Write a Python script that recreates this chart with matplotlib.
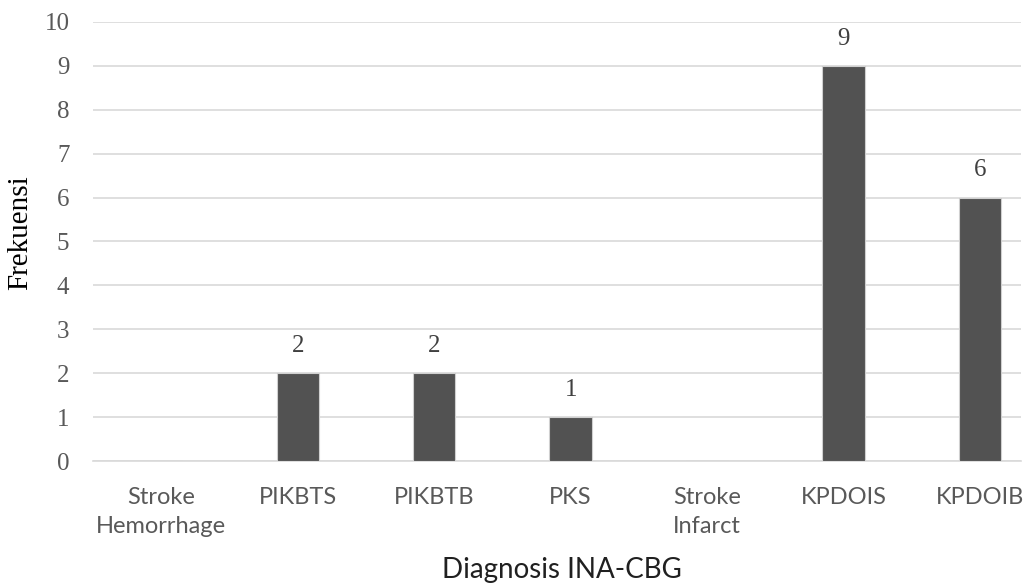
import matplotlib.pyplot as plt

categories = ["Stroke\nHemorrhage", "PIKBTS", "PIKBTB", "PKS",
              "Stroke\nInfarct", "KPDOIS", "KPDOIB"]
frekuensi = [0, 2, 2, 1, 0, 9, 6]
y_ticks = list(range(0, 11))


def main():
    fig = plt.figure(figsize=(10.25, 5.88), dpi=100)
    ax = fig.add_axes([93 / 1025, 1 - 461 / 588, 928 / 1025, 439 / 588])

    x = list(range(len(categories)))
    bars = ax.bar(x, frekuensi, width=0.31, color="#525252",
                  edgecolor="#d0d0d0", linewidth=0.8, zorder=3)

    # value labels only on the bars that have counts
    for b, v in zip(bars, frekuensi):
        if v > 0:
            ax.text(b.get_x() + b.get_width() / 2, v + 0.62, str(v),
                    ha="center", va="center", fontsize=18,
                    family="Liberation Serif", color="#404040")

    ax.set_xlim(-0.5, 6.3)
    ax.set_ylim(0, 10)
    ax.set_yticks(y_ticks)
    ax.yaxis.grid(True, color="#d9d9d9", linewidth=1.2, zorder=0)
    ax.set_axisbelow(True)
    for s in ["top", "right", "left"]:
        ax.spines[s].set_visible(False)
    ax.spines["bottom"].set_color("#d9d9d9")
    ax.spines["bottom"].set_linewidth(1.2)

    ax.set_xticks(x)
    ax.set_xticklabels(categories, fontsize=17, family="Lato",
                       color="#595959", linespacing=1.45, va="top")
    ax.tick_params(axis="x", length=0, pad=19)
    ax.tick_params(axis="y", length=0, pad=17, labelsize=18,
                   labelcolor="#595959")
    for t in ax.get_yticklabels():
        t.set_family("Liberation Serif")

    ax.set_ylabel("Frekuensi", fontsize=21, family="Liberation Serif",
                  va="center")
    ax.yaxis.set_label_coords(-0.079, 0.52)
    fig.text(562 / 1025, 1 - 570 / 588, "Diagnosis INA-CBG",
             ha="center", va="center", fontsize=20, family="Lato",
             color="#202020")

    fig.savefig("out.png", dpi=100)


if __name__ == "__main__":
    main()
